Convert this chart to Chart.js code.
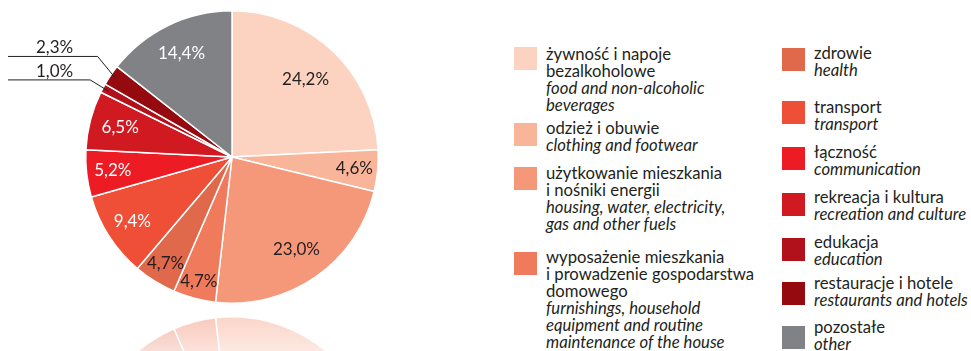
<!DOCTYPE html>
<html lang="pl">
<head>
<meta charset="utf-8">
<title>Struktura wydatków</title>
<script src="https://cdn.jsdelivr.net/npm/chart.js@4.4.1/dist/chart.umd.min.js"></script>
<style>
  html, body { margin: 0; padding: 0; background: #fff; }
  body { width: 971px; height: 351px; position: relative; overflow: hidden; font-family: Lato, "Open Sans", sans-serif; color: #231f20; }
  #pieBox { position: absolute; left: 0; top: 0; width: 464px; height: 351px; }
  #mirrorWrap { position: absolute; left: 0; top: 269px; width: 464px; height: 351px;
    -webkit-mask-image: linear-gradient(to bottom, rgba(0,0,0,0.42) 45px, rgba(0,0,0,0.12) 100px, rgba(0,0,0,0) 150px);
    mask-image: linear-gradient(to bottom, rgba(0,0,0,0.42) 45px, rgba(0,0,0,0.12) 100px, rgba(0,0,0,0) 150px); }
  #mirrorBox { width: 464px; height: 351px; transform: scaleY(-1); }
  .item { position: absolute; font-size: 16.7px; line-height: 17px; white-space: nowrap; }
  .item i { display: block; }
  .sw { position: absolute; width: 23px; height: 23px; }
</style>
</head>
<body>
<div id="mirrorWrap"><div id="mirrorBox"><canvas id="mirror"></canvas></div></div>
<div id="pieBox"><canvas id="pie"></canvas></div>
<div id="legend"></div>

<script>
// categories (Polish / English) and shares in %
var categoriesPl = [
  'żywność i napoje\nbezalkoholowe',
  'odzież i obuwie',
  'użytkowanie mieszkania\ni nośniki energii',
  'wyposażenie mieszkania\ni prowadzenie gospodarstwa\ndomowego',
  'zdrowie',
  'transport',
  'łączność',
  'rekreacja i kultura',
  'edukacja',
  'restauracje i hotele',
  'pozostałe'
];
var categoriesEn = [
  'food and non-alcoholic\nbeverages',
  'clothing and footwear',
  'housing, water, electricity,\ngas and other fuels',
  'furnishings, household\nequipment and routine\nmaintenance of the house',
  'health',
  'transport',
  'communication',
  'recreation and culture',
  'education',
  'restaurants and hotels',
  'other'
];
var shares = [24.2, 4.6, 23.0, 4.7, 4.7, 9.4, 5.2, 6.5, 1.0, 2.3, 14.4];

var colors = ['#fcd3c1', '#f9b59a', '#f5987a', '#f07a5c', '#e1694b', '#ef4e37',
              '#ed1c24', '#d01920', '#b0111a', '#940a0f', '#808285'];
var labelColors = ['#231f20', '#231f20', '#231f20', '#231f20', '#231f20', '#fff',
                   '#fff', '#fff', '#fff', '#fff', '#fff'];
// how far out (fraction of radius) each value label sits; 0 = leader line outside
var labelRadius = [0.73, 0.84, 0.77, 0.88, 0.86, 0.81, 0.82, 0.79, 0, 0, 0.79];
// elbow offsets for the leader lines of the thin slices
var leaderOffset = { 8: [-18, -11], 9: [-18, -22] };

// legend placement: column, swatch top, text top
var legendLayout = [
  [0, 47, 46], [0, 123, 120], [0, 167, 165], [0, 252, 249],
  [1, 48, 45], [1, 101, 99], [1, 147, 144], [1, 193, 189],
  [1, 238, 234], [1, 282, 275], [1, 326, 319]
];
var columnX = [[514, 546], [782, 814]];

function fmt(v) {
  return v.toFixed(1).replace('.', ',') + '%';
}

// value labels drawn on / beside the slices
var sliceLabels = {
  id: 'sliceLabels',
  afterDatasetsDraw: function (chart) {
    var ctx = chart.ctx;
    var arcs = chart.getDatasetMeta(0).data;
    ctx.save();
    ctx.font = '17px Lato, "Open Sans", sans-serif';
    ctx.textBaseline = 'middle';
    arcs.forEach(function (arc, i) {
      var p = arc.getProps(['x', 'y', 'startAngle', 'endAngle', 'outerRadius'], true);
      var mid = (p.startAngle + p.endAngle) / 2;
      if (labelRadius[i] > 0) {
        var r = p.outerRadius * labelRadius[i];
        ctx.fillStyle = labelColors[i];
        ctx.textAlign = 'center';
        ctx.fillText(fmt(shares[i]), p.x + Math.cos(mid) * r, p.y + Math.sin(mid) * r);
      } else {
        var ra = p.outerRadius * 0.96;
        var ax = p.x + Math.cos(mid) * ra;
        var ay = p.y + Math.sin(mid) * ra;
        var ex = ax + leaderOffset[i][0];
        var ey = ay + leaderOffset[i][1];
        ctx.strokeStyle = '#231f20';
        ctx.lineWidth = 1;
        ctx.beginPath();
        ctx.moveTo(ax, ay);
        ctx.lineTo(ex, ey);
        ctx.lineTo(8, ey);
        ctx.stroke();
        ctx.fillStyle = '#231f20';
        ctx.textAlign = 'left';
        ctx.textBaseline = 'alphabetic';
        ctx.fillText(fmt(shares[i]), 36, ey - 3);
        ctx.textBaseline = 'middle';
      }
    });
    ctx.restore();
  }
};

function pieConfig(withLabels) {
  return {
    type: 'pie',
    data: {
      labels: categoriesEn,
      datasets: [{
        data: shares,
        backgroundColor: colors,
        borderColor: '#ffffff',
        borderWidth: 1.5
      }]
    },
    options: {
      responsive: true,
      maintainAspectRatio: false,
      animation: false,
      events: [],
      layout: { padding: { left: 85, right: 85, top: 10, bottom: 47 } },
      plugins: { legend: { display: false }, tooltip: { enabled: false } }
    },
    plugins: withLabels ? [sliceLabels] : []
  };
}

new Chart(document.getElementById('pie'), pieConfig(true));
// faded mirror image under the pie
new Chart(document.getElementById('mirror'), pieConfig(false));

// two-column legend
var legend = document.getElementById('legend');
legendLayout.forEach(function (l, i) {
  var sw = document.createElement('div');
  sw.className = 'sw';
  sw.style.left = columnX[l[0]][0] + 'px';
  sw.style.top = l[1] + 'px';
  sw.style.background = colors[i];
  legend.appendChild(sw);

  var txt = document.createElement('div');
  txt.className = 'item';
  txt.style.left = columnX[l[0]][1] + 'px';
  txt.style.top = l[2] + 'px';
  txt.innerHTML = categoriesPl[i].split('\n').join('<br>') +
    '<i>' + categoriesEn[i].split('\n').join('<br>') + '</i>';
  legend.appendChild(txt);
});
</script>
</body>
</html>
